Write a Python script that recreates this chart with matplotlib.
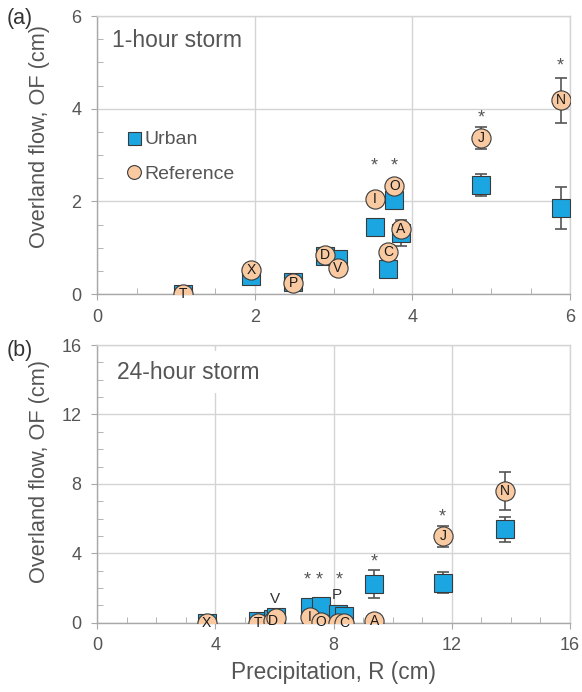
import matplotlib
matplotlib.use("Agg")
import matplotlib.pyplot as plt
from matplotlib.ticker import MultipleLocator

plt.rcParams['font.family'] = ['Liberation Sans', 'DejaVu Sans']

# ---- 1-hour storm ----
sites_1h = ["T", "X", "P", "D", "V", "C", "I", "O", "A", "J", "N"]
precip_1h = [1.09, 1.95, 2.49, 2.89, 3.05, 3.69, 3.52, 3.77, 3.85, 4.87, 5.88]
urban_1h = [0.0, 0.39, 0.27, 0.82, 0.75, 0.55, 1.44, 2.03, 1.31, 2.35, 1.85]
urban_err_1h = [0, 0, 0, 0, 0, 0, 0, 0, 0.28, 0.24, 0.45]
ref_1h = [0.0, 0.52, 0.24, 0.84, 0.57, 0.90, 2.05, 2.33, 1.40, 3.36, 4.18]
ref_err_1h = [0, 0, 0, 0, 0, 0, 0, 0, 0, 0.24, 0.48]
star_sites_1h = ["I", "O", "J", "N"]
star_y_1h = [2.76, 2.76, 3.81, 4.93]

# ---- 24-hour storm ----
sites_24h = ["X", "T", "D", "V", "I", "O", "P", "C", "A", "J", "N"]
precip_24h = [3.70, 5.43, 5.94, 6.05, 7.20, 7.57, 8.15, 8.35, 9.37, 11.71, 13.80]
urban_24h = [0.0, 0.10, 0.20, 0.35, 0.92, 0.95, 0.48, 0.38, 2.21, 2.30, 5.38]
urban_err_24h = [0, 0, 0, 0, 0, 0, 0, 0, 0.80, 0.60, 0.73]
ref_24h = [0.0, 0.0, 0.10, 0.25, 0.31, 0.05, 0.0, 0.0, 0.10, 4.99, 7.59]
ref_err_24h = [0, 0, 0, 0, 0, 0, 0, 0, 0, 0.60, 1.10]
hidden_24h = ["V", "P"]          # circles hidden behind neighbours, labelled above
hidden_label_y_24h = [1.35, 1.60]
star_x_24h = [7.09, 7.51, 8.19, 9.37, 11.68]
star_y_24h = [2.46, 2.46, 2.46, 3.48, 6.10]

BLUE = "#1ba6e1"
PEACH = "#f9c9a1"
EDGE = "#3a3a3a"
GRID = "#d4d4d4"
TXT = "#555555"

fig = plt.figure(figsize=(5.82, 6.92), dpi=100)
ax_a = fig.add_axes([0.1672, 0.5751, 0.8122, 0.4017])
ax_b = fig.add_axes([0.1672, 0.1001, 0.8122, 0.4013])


def style_axes(ax, xmax, ymax, major, minor, label_y):
    ax.set_xlim(0, xmax)
    ax.set_ylim(0, ymax)
    ax.xaxis.set_major_locator(MultipleLocator(major))
    ax.yaxis.set_major_locator(MultipleLocator(major))
    ax.xaxis.set_minor_locator(MultipleLocator(minor))
    ax.yaxis.set_minor_locator(MultipleLocator(minor))
    ax.grid(True, which="major", color=GRID, linewidth=1.0, zorder=0)
    ax.set_axisbelow(True)
    for s in ax.spines.values():
        s.set_color(GRID)
        s.set_linewidth(1.0)
    for s in ("left", "bottom"):
        ax.spines[s].set_color("#a8a8a8")
    ax.tick_params(which="both", color="#a8a8a8", labelsize=13, labelcolor=TXT)
    ax.tick_params(which="major", direction="out", length=4)
    ax.tick_params(which="minor", direction="in", length=4)
    ax.tick_params(axis="x", which="major", pad=6.5)
    ax.tick_params(axis="y", which="major", pad=7.5)
    ax.set_ylabel("Overland flow, OF (cm)", fontsize=15.7, color=TXT)
    ax.yaxis.set_label_coords(-0.101, label_y)


def draw_points(ax, x, urban, uerr, ref, rerr, sites, hidden=()):
    ax.errorbar(x, urban, yerr=uerr, fmt="none", ecolor="#555555",
                elinewidth=1.2, capsize=4, capthick=1.2, zorder=2)
    ax.plot(x, urban, ls="none", marker="s", ms=13, mfc=BLUE, mec=EDGE,
            mew=0.8, zorder=3, label="Urban")
    ax.errorbar(x, ref, yerr=rerr, fmt="none", ecolor="#555555",
                elinewidth=1.2, capsize=4, capthick=1.2, zorder=4)
    ax.plot(x, ref, ls="none", marker="o", ms=13.8, mfc=PEACH, mec=EDGE,
            mew=0.8, zorder=5, label="Reference")
    for xi, yi, s in zip(x, ref, sites):
        if s in hidden:
            continue
        ax.text(xi, yi, s, ha="center", va="center", fontsize=10,
                color="#1a1a1a", zorder=6, clip_on=False)


# Panel (a)
style_axes(ax_a, 6, 6, 2, 0.5, 0.565)
draw_points(ax_a, precip_1h, urban_1h, urban_err_1h, ref_1h, ref_err_1h, sites_1h)
for s, yv in zip(star_sites_1h, star_y_1h):
    xv = precip_1h[sites_1h.index(s)]
    ax_a.text(xv, yv, "*", ha="center", va="center", fontsize=13, color=TXT, zorder=6)
ax_a.text(0.19, 5.48, "1-hour storm", fontsize=16.5, color=TXT, va="center", ha="left",
          bbox=dict(facecolor="white", edgecolor="none", pad=4), zorder=1.5)
ax_a.legend(loc="upper left", bbox_to_anchor=(0.045, 0.615), frameon=False,
            fontsize=14, handletextpad=0.15, labelspacing=0.85, borderaxespad=0,
            handlelength=0.8, markerscale=0.72, labelcolor=TXT)

# Panel (b)
style_axes(ax_b, 16, 16, 4, 1, 0.543)
draw_points(ax_b, precip_24h, urban_24h, urban_err_24h, ref_24h, ref_err_24h,
            sites_24h, hidden=hidden_24h)
for s, yv in zip(hidden_24h, hidden_label_y_24h):
    xv = precip_24h[sites_24h.index(s)]
    ax_b.text(xv - 0.05, yv, s, ha="center", va="center", fontsize=11,
              color="#333333", zorder=6)
for xv, yv in zip(star_x_24h, star_y_24h):
    ax_b.text(xv, yv, "*", ha="center", va="center", fontsize=13, color=TXT, zorder=6)
ax_b.text(0.68, 14.44, "24-hour storm", fontsize=16.5, color=TXT, va="center", ha="left",
          bbox=dict(facecolor="white", edgecolor="none", pad=7), zorder=1.5)
ax_b.set_xlabel("Precipitation, R (cm)", fontsize=16.3, color=TXT, labelpad=5)

fig.text(0.012, 0.988, "(a)", fontsize=15.5, color="#333333", va="top", ha="left")
fig.text(0.012, 0.508, "(b)", fontsize=15.5, color="#333333", va="top", ha="left")

fig.savefig("out.png", dpi=100)
